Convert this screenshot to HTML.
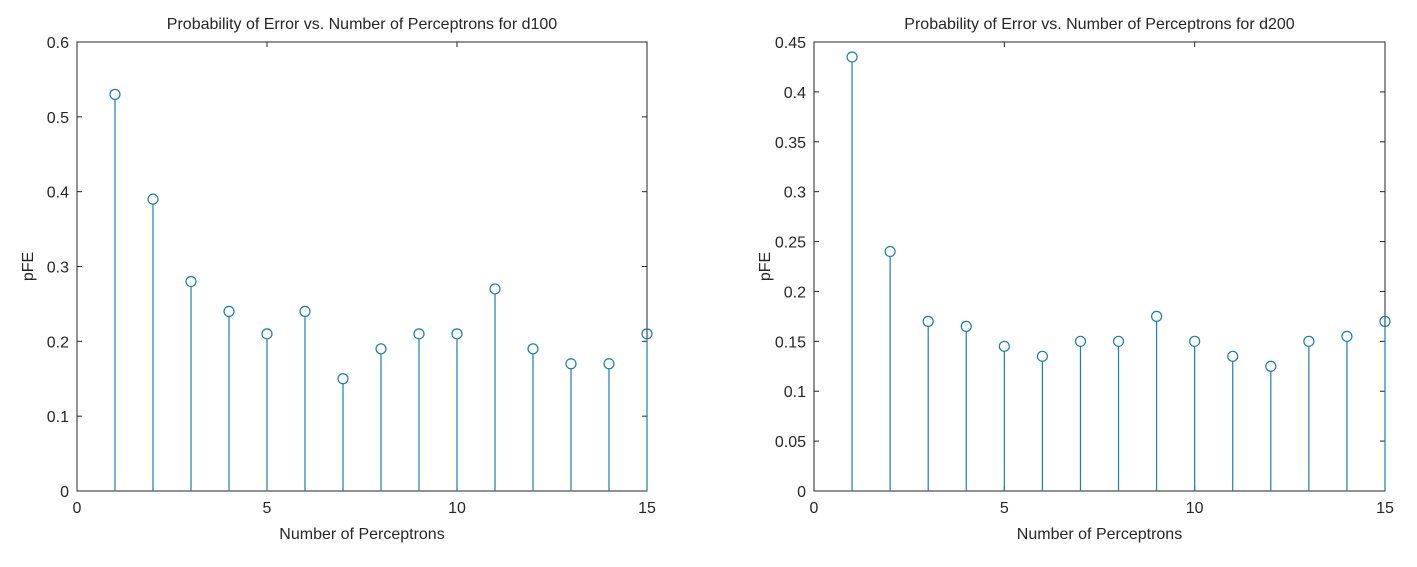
<!DOCTYPE html>
<html><head><meta charset="utf-8"><style>
body{margin:0;background:#fff;}
svg text{font-family:"Liberation Sans",sans-serif;fill:#262626;}
</style></head><body>
<svg id="fig" width="1417" height="562" xmlns="http://www.w3.org/2000/svg"></svg>
<script>
const categories = [1,2,3,4,5,6,7,8,9,10,11,12,13,14,15];
const valuesD100 = [0.53,0.39,0.28,0.24,0.21,0.24,0.15,0.19,0.21,0.21,0.27,0.19,0.17,0.17,0.21];
const valuesD200 = [0.435,0.24,0.17,0.165,0.145,0.135,0.15,0.15,0.175,0.15,0.135,0.125,0.15,0.155,0.17];
const xTicks = [0,5,10,15];
const yTicksD100 = [0,0.1,0.2,0.3,0.4,0.5,0.6];
const yTicksD200 = [0,0.05,0.1,0.15,0.2,0.25,0.3,0.35,0.4,0.45];
const NS="http://www.w3.org/2000/svg";
const svg=document.getElementById('fig');
function mk(tag,attrs,parent){const e=document.createElementNS(NS,tag);for(const k in attrs)e.setAttribute(k,attrs[k]);(parent||svg).appendChild(e);return e;}
function chart(id,x0,x1,y0,y1,ymax,vals,yt,title){
  const g=mk('g',{});
  
  
  const sx=v=>x0+(v-0)/(15-0)*(x1-x0);
  const sy=v=>y1-v/ymax*(y1-y0);
  mk('rect',{x:x0,y:y0,width:x1-x0,height:y1-y0,fill:'#fff',stroke:'#262626','stroke-width':1},g);
  xTicks.forEach(t=>{
    mk('line',{x1:sx(t),x2:sx(t),y1:y1,y2:y1-5,stroke:'#262626'},g);
    mk('line',{x1:sx(t),x2:sx(t),y1:y0,y2:y0+5,stroke:'#262626'},g);
    const tx=mk('text',{x:sx(t),y:y1+22,'text-anchor':'middle','font-size':16},g);
    tx.textContent=t;
    
    
  });
  yt.forEach(t=>{
    mk('line',{x1:x0,x2:x0+5,y1:sy(t),y2:sy(t),stroke:'#262626'},g);
    mk('line',{x1:x1,x2:x1-5,y1:sy(t),y2:sy(t),stroke:'#262626'},g);
    const tx=mk('text',{x:x0-8,y:sy(t)+6,'text-anchor':'end','font-size':16},g);
    tx.textContent=String(t);
    
    
  });
  categories.forEach((c,i)=>{
    const st=mk('line',{x1:sx(c),x2:sx(c),y1:y1,y2:sy(vals[i])+5,stroke:'#1b7fa6','stroke-width':1.2},g);
    
    
    const cc=mk('circle',{cx:sx(c),cy:sy(vals[i]),r:5,fill:'none',stroke:'#1b7fa6','stroke-width':1.2},g);
    
    
  });
  const ti=mk('text',{x:(x0+x1)/2,y:y0-13,'text-anchor':'middle','font-size':16},g);
  ti.textContent=title;
  
  
  const xl=mk('text',{x:(x0+x1)/2,y:y1+48,'text-anchor':'middle','font-size':16},g);
  xl.textContent='Number of Perceptrons';
  
  
  const yl=mk('text',{x:0,y:0,'text-anchor':'middle','font-size':16,transform:`translate(${x0-44},${(y0+y1)/2}) rotate(-90)`},g);
  yl.textContent='pFE';
  
  
}
chart('chart-d100',77,647,42,491,0.6,valuesD100,yTicksD100,'Probability of Error vs. Number of Perceptrons for d100');
chart('chart-d200',814,1385,42,491,0.45,valuesD200,yTicksD200,'Probability of Error vs. Number of Perceptrons for d200');
</script>
</body></html>
